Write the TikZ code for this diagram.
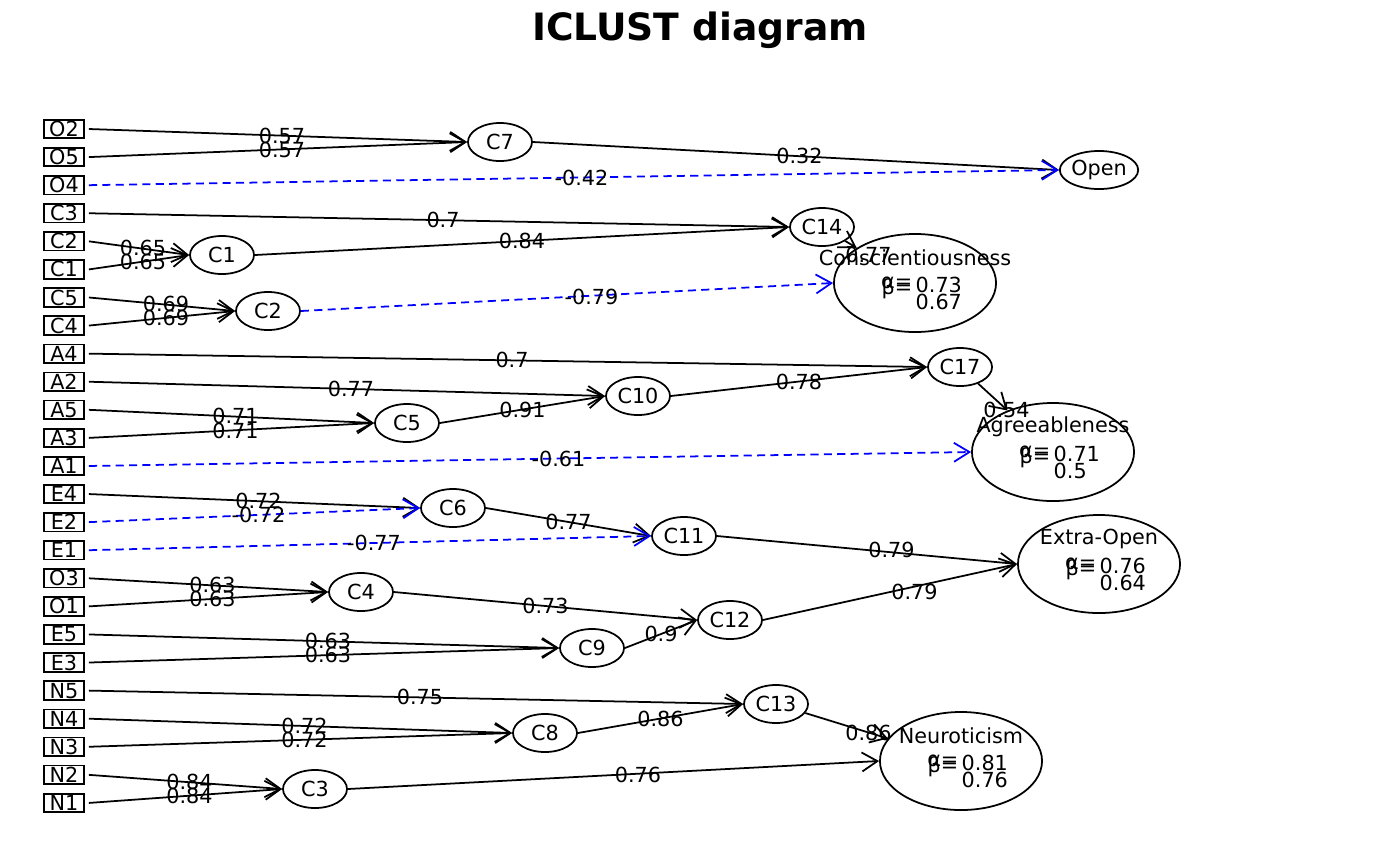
\documentclass[tikz,border=0pt]{standalone}
\usepackage{fontspec}
\setmainfont{DejaVu Sans}
\usetikzlibrary{positioning}
\usetikzlibrary {arrows.meta}
\usetikzlibrary{shapes.geometric}

\tikzset{
  item/.style={draw, line width=0.5pt, rectangle, inner sep=0pt, minimum width=0.4cm, minimum height=0.185cm, outer xsep=1.4pt, font=\fontsize{5.9}{7}\selectfont},
  clust/.style={draw, line width=0.5pt, ellipse, inner sep=0pt, minimum width=0.64cm, minimum height=0.38cm, font=\fontsize{5.9}{7}\selectfont},
  big/.style={draw, line width=0.5pt, ellipse, inner sep=0pt, minimum width=1.62cm, minimum height=0.98cm},
  load/.style={line width=0.5pt, -{Straight Barb[length=4.4pt,width=5.4pt,line width=0.5pt]}},
  negload/.style={load, blue, dash pattern=on 2.3pt off 1.5pt},
  weight/.style={inner sep=0pt, font=\fontsize{5.9}{7}\selectfont},
}

\begin{document}
\begin{tikzpicture}[x=0.01cm, y=-0.01cm]
    \useasboundingbox (0,0) rectangle (1400,866);
    \node[font=\bfseries\fontsize{10.7}{13}\selectfont] (title) at (700,30) {ICLUST diagram};

    %% items
    \foreach \v [count=\i from 0] in {O2,O5,O4,C3,C2,C1,C5,C4,A4,A2,A5,A3,A1,E4,E2,E1,O3,O1,E5,E3,N5,N4,N3,N2,N1}
        \node[item] (i\v) at (64,129+28.08*\i) {\v};

    %% clusters
    \foreach \n/\x/\y in {7/500/142, 14/822/227, 1/222/255, 2/268/311, 17/960/367, 10/638/396, 5/407/423,
        6/453/508, 11/684/536, 4/361/592, 12/730/620, 9/592/648, 13/776/704, 8/545/733, 3/315/789}
        \node[clust] (c\n) at (\x,\y) {C\n};
    \node[clust, minimum width=0.65cm] (open) at (1099,170) {Open};

    % big clusters with alpha and beta
    \foreach \n/\x/\y/\t/\a/\b in {consc/915/283/Conscientiousness/0.73/0.67, agree/1053/452/Agreeableness/0.71/0.5,
        extra/1099/564/Extra-Open/0.76/0.64, neuro/961/761/Neuroticism/0.81/0.76}{
        \node[big] (\n) at (\x,\y) {};
        \node[weight] at (\x,\y-25) {\t};
        \node[weight, anchor=east] at (\x-2,\y) {α=};
        \node[weight, anchor=east] at (\x-2,\y+6) {β=};
        \node[weight, anchor=west] at (\x,\y+2) {\a};
        \node[weight, anchor=west] at (\x,\y+19) {\b};
    }

    %% edges
    \foreach \a/\b/\w in {iO2/c7/0.57, iO5/c7/0.57, iC3/c14/0.7, iC2/c1/0.65, iC1/c1/0.65, c1/c14/0.84,
        iC5/c2/0.69, iC4/c2/0.69, c7/open/0.32, iA4/c17/0.7, iA2/c10/0.77, iA5/c5/0.71, iA3/c5/0.71,
        c5/c10/0.91, c10/c17/0.78, iE4/c6/0.72, c6/c11/0.77, c11/extra/0.79, iO3/c4/0.63, iO1/c4/0.63,
        c4/c12/0.73, iE5/c9/0.63, iE3/c9/0.63, c9/c12/0.9, c12/extra/0.79, iN5/c13/0.75, iN4/c8/0.72,
        iN3/c8/0.72, c8/c13/0.86, iN2/c3/0.84, iN1/c3/0.84, c3/neuro/0.76}{
        \draw[load] (\a.east) -- (\b.west);
        \path (\a.center) -- node[weight] {\w} (\b.center);
    }
    \foreach \a/\b/\w in {iO4/open/-0.42, c2/consc/-0.79, iA1/agree/-0.61, iE2/c6/-0.72, iE1/c11/-0.77}{
        \draw[negload] (\a.east) -- (\b.west);
        \path (\a.center) -- node[weight] {\w} (\b.center);
    }
    \foreach \a/\b/\w in {c14/consc/0.77, c17/agree/0.54, c13/neuro/0.86}{
        \draw[load] (\a) -- (\b);
        \path (\a.center) -- node[weight] {\w} (\b.center);
    }
\end{tikzpicture}
\end{document}
